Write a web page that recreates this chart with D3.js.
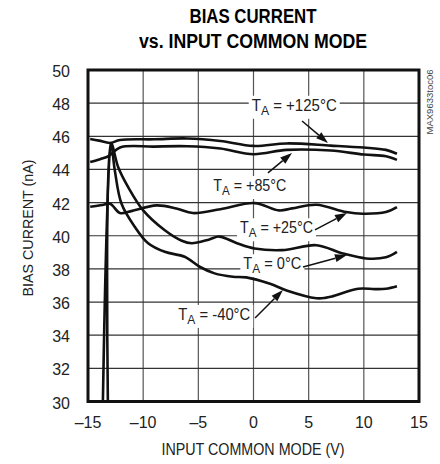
<!DOCTYPE html>
<html>
<head>
<meta charset="utf-8">
<script src="https://cdn.jsdelivr.net/npm/d3@7"></script>
<style>
  html, body { margin: 0; padding: 0; background: #fff; }
  svg { display: block; }
</style>
</head>
<body>
<div id="chart"></div>
<script>
// ---- data (V, nA) ----
const t125 = [[-14.8,45.84],[-14,45.74],[-13,45.6],[-12.1,45.78],[-9,45.82],[-6,45.87],[-3,45.72],[0,45.42],[3,45.57],[7,45.44],[10,45.32],[12,45.18],[13,44.95]];
const t85  = [[-14.8,44.45],[-13.9,44.62],[-13.1,44.82],[-12.1,45.33],[-9,45.38],[-6,45.4],[-3,45.26],[0,44.92],[3,45.18],[7,45.14],[10,44.9],[12,44.8],[13,44.58]];
const t25  = [[-14.8,41.75],[-13.7,41.85],[-13.0,41.93],[-12.1,41.37],[-11,41.5],[-8.8,41.83],[-7,41.65],[-5.5,41.37],[-3,41.6],[0.1,41.97],[2.3,41.53],[3.5,41.65],[5.7,41.87],[8.4,41.43],[9.9,41.33],[12,41.43],[13,41.73]];
const t0   = [[-13.2,30],[-12.92,45.6],[-12.26,44.13],[-11.36,42.93],[-10,41.53],[-8.04,40.33],[-6.5,39.7],[-5.6,39.55],[-4,39.78],[-3.1,39.95],[-1.5,39.55],[0.1,39.23],[2.6,39.13],[5.7,39.43],[8.1,38.93],[10.2,38.63],[12,38.7],[13,39.03]];
const tm40 = [[-13.65,30],[-12.92,45.6],[-12.56,43.9],[-11.96,41.93],[-10.75,40.53],[-9.55,39.55],[-8.04,39.03],[-6.24,38.73],[-4.88,38.13],[-3.53,37.73],[-1.87,37.53],[-0.66,37.49],[1.5,37.1],[3,36.7],[5.7,36.23],[6.5,36.25],[7.1,36.33],[9.5,36.8],[11,36.78],[12,36.8],[13,36.95]];
const series = [t125, t85, t25, t0, tm40];

const xTicks = [-15,-10,-5,0,5,10,15];
const xTickLabels = ["–15","–10","–5","0","5","10","15"];
const yTicks = [30,32,34,36,38,40,42,44,46,48,50];

const labelSubs = ["A","A","A","A","A"];
const labelTexts = [" = +125°C"," = +85°C"," = +25°C"," = 0°C"," = -40°C"];
const labelPos = [[-0.16,47.54],[-3.64,42.70],[-1.22,40.15],[-0.92,37.98],[-6.82,34.92]];
const labelLen = [85,73,73,58,72];
const arrows = [[4.40,46.92,6.75,45.60],[1.31,43.79,3.49,44.99],[5.57,40.35,8.47,41.37],[4.49,38.11,8.47,38.84],[0.14,35.04,2.67,36.73]];

const titleLines = ["BIAS CURRENT","vs. INPUT COMMON MODE"];
const xTitle = "INPUT COMMON MODE (V)";
const yTitle = "BIAS CURRENT (nA)";
const tocText = "MAX9633toc06";

// ---- drawing ----
const W = 440, H = 464;
const FONT = "'Liberation Sans Narrow','Arial Narrow','Liberation Sans',Arial,sans-serif";
const svg = d3.select("#chart").append("svg").attr("width", W).attr("height", H)
  .style("font-family", FONT);

const x = d3.scaleLinear().domain([-15,15]).range([88,419]);
const y = d3.scaleLinear().domain([30,50]).range([401.5,70]);

// title
svg.selectAll("text.title").data(titleLines).enter().append("text")
  .attr("class","title")
  .attr("x", 253).attr("y",(d,i)=> 23 + i*25)
  .attr("text-anchor","middle")
  .attr("font-size", 20).attr("font-weight","bold")
  .attr("textLength",(d,i)=> i===0?127:228).attr("lengthAdjust","spacingAndGlyphs")
  .text(d=>d);

// grid
const g = svg.append("g");
g.selectAll("line.vg").data(xTicks.slice(1,-1)).enter().append("line")
  .attr("x1",d=>x(d)).attr("x2",d=>x(d)).attr("y1",y(30)).attr("y2",y(50))
  .attr("stroke","#555").attr("stroke-width",1.2);
g.selectAll("line.hg").data(yTicks.slice(1,-1)).enter().append("line")
  .attr("x1",x(-15)).attr("x2",x(15)).attr("y1",d=>y(d)).attr("y2",d=>y(d))
  .attr("stroke","#333").attr("stroke-width",1.2);

// clip
svg.append("clipPath").attr("id","clip").append("rect")
  .attr("x",x(-15)).attr("y",y(50)).attr("width",x(15)-x(-15)).attr("height",y(30)-y(50));

// label backgrounds + labels
const lg = svg.append("g");
const labels = lg.selectAll("text.lab").data(labelTexts).enter().append("text")
  .attr("class","lab")
  .attr("x",(d,i)=>x(labelPos[i][0])).attr("y",(d,i)=>y(labelPos[i][1]))
  .attr("font-size",16).attr("fill","#222");
labels.each(function(d,i){
  const t = d3.select(this);
  t.append("tspan").text("T");
  t.append("tspan").attr("font-size",13).attr("dy",4).text(labelSubs[i]);
  t.append("tspan").attr("dy",-4).text(d);
  t.attr("textLength",labelLen[i]).attr("lengthAdjust","spacingAndGlyphs");
});
labels.each(function(){
  const b = this.getBBox();
  lg.insert("rect","text").attr("x",b.x-3).attr("y",b.y-1).attr("width",b.width+6).attr("height",b.height+2).attr("fill","#fff");
});

// curves
const line = d3.line().x(d=>x(d[0])).y(d=>y(d[1])).curve(d3.curveCatmullRom.alpha(0.5));
svg.append("g").attr("clip-path","url(#clip)").selectAll("path.s").data(series).enter().append("path")
  .attr("d", line).attr("fill","none").attr("stroke","#111").attr("stroke-width",2.6)
  .attr("stroke-linejoin","round");

// arrows
const ag = svg.append("g");
arrows.forEach(a=>{
  const x1=x(a[0]), y1=y(a[1]), x2=x(a[2]), y2=y(a[3]);
  const ang = Math.atan2(y2-y1, x2-x1);
  const L=12, Wd=4;
  const bx = x2 - L*Math.cos(ang), by = y2 - L*Math.sin(ang);
  ag.append("line").attr("x1",x1).attr("y1",y1).attr("x2",bx).attr("y2",by)
    .attr("stroke","#111").attr("stroke-width",1.5);
  const px = -Math.sin(ang)*Wd, py = Math.cos(ang)*Wd;
  ag.append("path").attr("d",`M${x2},${y2}L${bx+px},${by+py}L${bx-px},${by-py}Z`).attr("fill","#111");
});

// frame
svg.append("rect").attr("x",x(-15)).attr("y",y(50)).attr("width",x(15)-x(-15)).attr("height",y(30)-y(50))
  .attr("fill","none").attr("stroke","#111").attr("stroke-width",3);

// tick labels
svg.selectAll("text.xt").data(xTicks).enter().append("text")
  .attr("x",d=>x(d)).attr("y",428).attr("text-anchor","middle").attr("font-size",16).attr("fill","#222")
  .text((d,i)=>xTickLabels[i]);
svg.selectAll("text.yt").data(yTicks).enter().append("text")
  .attr("x",70).attr("y",d=>y(d)+7).attr("text-anchor","end").attr("font-size",16).attr("fill","#222")
  .text(d=>d);

// axis titles
svg.append("text").attr("x",253).attr("y",455).attr("text-anchor","middle").attr("font-size",16).attr("fill","#222")
  .attr("textLength",183).attr("lengthAdjust","spacingAndGlyphs").text(xTitle);
svg.append("text").attr("transform","translate(33,228) rotate(-90)").attr("text-anchor","middle")
  .attr("font-size",14).attr("fill","#222")
  .attr("textLength",137).attr("lengthAdjust","spacingAndGlyphs").text(yTitle);
svg.append("text").attr("transform","translate(433,102) rotate(-90)").attr("text-anchor","middle")
  .attr("font-size",9).attr("fill","#444")
  .attr("textLength",65).attr("lengthAdjust","spacingAndGlyphs").text(tocText);
</script>
</body>
</html>
